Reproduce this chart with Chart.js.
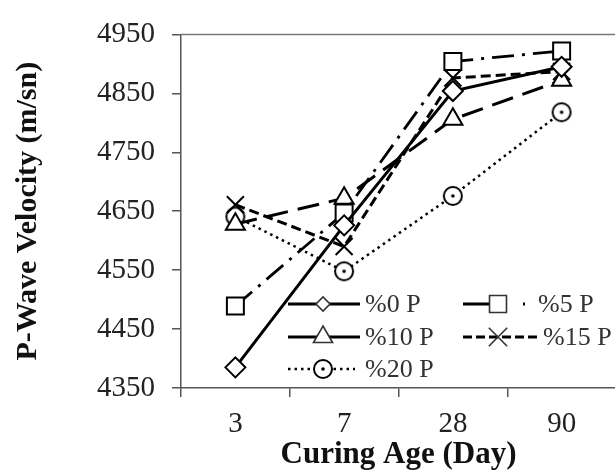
<!DOCTYPE html>
<html>
<head>
<meta charset="utf-8">
<script src="https://cdn.jsdelivr.net/npm/chart.js@4.4.1/dist/chart.umd.min.js"></script>
<style>
  html, body { margin: 0; padding: 0; background: #fff; overflow: hidden; }
  #wrap { width: 630px; height: 470px; }
</style>
</head>
<body>
<div id="wrap"><canvas id="grafico" width="630" height="470"></canvas></div>
<script>
// datos
const edades = ['3', '7', '28', '90'];
const serie0 = [4385, 4626, 4854, 4895];
const serie5 = [4489, 4647, 4904, 4922];
const serie10 = [4628, 4672, 4806, 4872];
const serie15 = [4661, 4590, 4876, 4887];
const serie20 = [4641, 4548, 4676, 4818];
const etiquetas = ['%0 P', '%5 P', '%10 P', '%15 P', '%20 P'];
const ticksY = [4350, 4450, 4550, 4650, 4750, 4850, 4950];

const fuente = '"Liberation Serif", "Times New Roman", serif';
const negro = '#000';

// circulo con punto al centro
function circuloConPunto(r) {
  const c = document.createElement('canvas');
  const s = Math.ceil(r * 2 + 4);
  c.width = s; c.height = s;
  const g = c.getContext('2d');
  g.strokeStyle = negro;
  g.lineWidth = 2;
  g.fillStyle = '#fff';
  g.beginPath();
  g.arc(s / 2, s / 2, r, 0, Math.PI * 2);
  g.fill();
  g.stroke();
  g.fillStyle = negro;
  g.beginPath();
  g.arc(s / 2, s / 2, 1.8, 0, Math.PI * 2);
  g.fill();
  return c;
}
const marcaCirculo = circuloConPunto(9);

function serie(label, data, estilo, radio, dash, ancho) {
  return {
    label: label,
    data: data,
    borderColor: negro,
    borderWidth: ancho,
    borderDash: dash,
    pointStyle: estilo,
    pointRadius: radio,
    pointBackgroundColor: '#fff',
    pointBorderColor: negro,
    pointBorderWidth: 2,
    tension: 0,
    fill: false
  };
}

const datasets = [
  serie(etiquetas[0], serie0, 'rectRot', 10, [], 3),
  serie(etiquetas[1], serie5, 'rect', 12, [22, 8, 3, 8], 2.8),
  serie(etiquetas[2], serie10, 'triangle', 11, [22, 10], 3),
  serie(etiquetas[3], serie15, 'crossRot', 12, [10, 5], 3),
  serie(etiquetas[4], serie20, marcaCirculo, 9, [2.5, 4], 2.5)
];

// leyenda dibujada dentro del area del grafico
const leyendaInterna = {
  id: 'leyendaInterna',
  afterDatasetsDraw(chart, args, opts) {
    const ctx = chart.ctx;
    opts.items.forEach((it, i) => {
      const ds = chart.data.datasets[i];
      ctx.save();
      ctx.strokeStyle = negro;
      ctx.lineWidth = ds.borderWidth;
      ctx.setLineDash(it.dash);
      ctx.beginPath();
      ctx.moveTo(it.x1, it.y);
      ctx.lineTo(it.x2, it.y);
      ctx.stroke();
      ctx.setLineDash([]);
      ctx.fillStyle = '#fff';
      ctx.lineWidth = 1.6;
      ctx.strokeStyle = '#333';
      Chart.helpers.drawPoint(ctx, {
        pointStyle: ds.pointStyle,
        radius: it.r,
        rotation: 0,
        borderWidth: 1.6
      }, it.xm, it.y);
      ctx.fillStyle = '#333';
      ctx.font = '26px ' + fuente;
      ctx.textBaseline = 'middle';
      ctx.textAlign = 'left';
      ctx.fillText(ds.label, it.xt, it.y + 1);
      ctx.restore();
    });
  }
};

// linea superior del marco
const marcoSuperior = {
  id: 'marcoSuperior',
  afterDraw(chart) {
    const a = chart.chartArea;
    const ctx = chart.ctx;
    ctx.save();
    ctx.strokeStyle = '#777';
    ctx.lineWidth = 1.5;
    ctx.beginPath();
    ctx.moveTo(a.left, a.top);
    ctx.lineTo(a.right + 5, a.top);
    ctx.stroke();
    ctx.restore();
  }
};

const ctx = document.getElementById('grafico').getContext('2d');

new Chart(ctx, {
  type: 'line',
  data: { labels: edades, datasets: datasets },
  plugins: [leyendaInterna, marcoSuperior],
  options: {
    responsive: false,
    animation: false,
    devicePixelRatio: 1,
    layout: { padding: { top: 25, right: 5, left: 0, bottom: 0 } },
    plugins: {
      legend: { display: false },
      tooltip: { enabled: false },
      leyendaInterna: {
        items: [
          { x1: 288, x2: 360, xm: 323, xt: 365, y: 304, r: 7, dash: [] },
          { x1: 463, x2: 525, xm: 498, xt: 538, y: 304, r: 12, dash: [26, 34, 3, 40] },
          { x1: 288, x2: 360, xm: 323, xt: 365, y: 337, r: 11, dash: [] },
          { x1: 463, x2: 540, xm: 498, xt: 543, y: 337, r: 13, dash: [9, 4] },
          { x1: 288, x2: 355, xm: 323, xt: 365, y: 369, r: 9, dash: [2.5, 4] }
        ]
      }
    },
    scales: {
      x: {
        offset: true,
        grid: { offset: true, drawOnChartArea: false, tickLength: 9, color: '#555', lineWidth: 1.5 },
        border: { color: '#555', width: 1.5 },
        ticks: { font: { family: fuente, size: 29 }, color: '#222', padding: 10 },
        title: {
          display: true,
          text: 'Curing Age (Day)',
          font: { family: fuente, size: 31, weight: 'bold', lineHeight: 1 },
          color: '#111',
          padding: 0
        },
        afterFit: s => { s.height = 82; }
      },
      y: {
        min: 4350,
        max: 4950,
        afterBuildTicks: s => { s.ticks = ticksY.map(v => ({ value: v })); },
        grid: { drawOnChartArea: false, tickLength: 9, color: '#555', lineWidth: 1.5 },
        border: { color: '#555', width: 1.5 },
        ticks: {
          font: { family: fuente, size: 29 },
          color: '#222',
          padding: 17,
          callback: v => String(v)
        },
        title: {
          display: true,
          text: 'P-Wave Velocity (m/sn)',
          font: { family: fuente, size: 30, weight: 'bold', lineHeight: 1.2 },
          color: '#111',
          padding: { top: 10, bottom: 0 }
        },
        afterFit: s => { s.width = 181; }
      }
    }
  }
});
</script>
</body>
</html>
